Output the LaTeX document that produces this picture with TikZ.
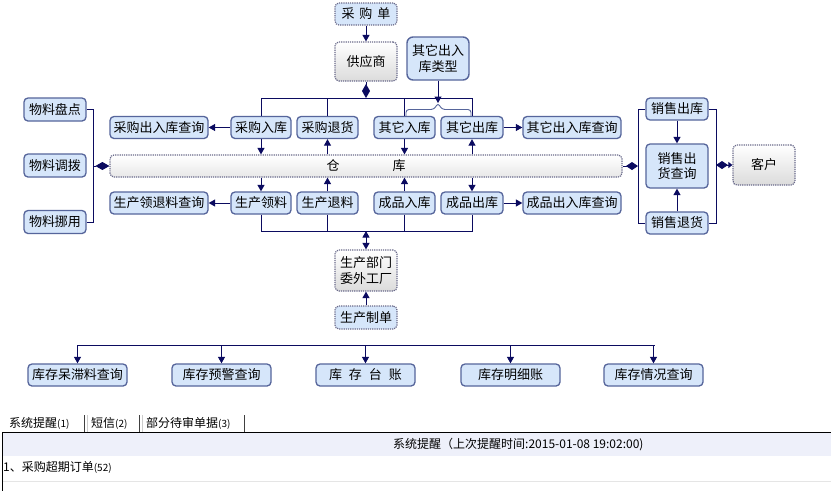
\documentclass[tikz,border=0pt]{standalone}
\usepackage{fontspec}
\setmainfont{Noto Sans CJK SC}
\usetikzlibrary{arrows.meta,shapes.geometric}
\definecolor{bfill}{HTML}{D6E6FA}
\definecolor{bline}{HTML}{56659B}
\definecolor{cline}{HTML}{0B0B60}
\definecolor{dline}{HTML}{6A6A8A}
\definecolor{hfill}{HTML}{EEF0FA}
\tikzset{
  box/.style={draw=bline, line width=1.3pt, rounded corners=4pt, fill=bfill, inner sep=0pt,
    font=\fontsize{13}{15.5}\selectfont, align=center, minimum width=62pt, minimum height=22pt},
  dbox/.style={box, draw=dline, dash pattern=on 1.2pt off 1pt, line width=1.2pt},
  gbox/.style={dbox, top color=white, bottom color=black!14},
  conn/.style={draw=cline, line width=1pt, -{Triangle[length=6.5pt,width=7pt]}},
  dconn/.style={draw=cline, line width=1pt, {Triangle[length=6.5pt,width=7pt]}-{Triangle[length=6.5pt,width=7pt]}},
  plain/.style={draw=cline, line width=1pt},
  diam/.style={draw=cline, line width=1pt, -{Diamond[length=14pt,width=8pt]}},
  tabtxt/.style={font=\fontsize{12}{14}\selectfont, inner sep=0pt},
}
\begin{document}
\begin{tikzpicture}[x=1pt,y=-1pt]
\useasboundingbox[fill=white] (0,0) rectangle (831,491);

% top
\node[dbox] (cgd) at (366,14) {采\hspace{5pt}购\hspace{5pt}单};
\node[gbox, minimum height=39pt] (gys) at (366,61.5) {供应商};
\node[box, minimum height=43pt, line width=1.4pt, rounded corners=6pt] (qtlx) at (438,58.5) {其它出入\\库类型};
\draw[conn] (cgd) -- (gys);

% row 1
\node[box, minimum width=98pt] (cgq) at (159,127.5) {采购出入库查询};
\node[box, minimum width=60pt] (cgrk) at (261,127.5) {采购入库};
\node[box, minimum width=61pt] (cgth) at (327.5,127.5) {采购退货};
\node[box, minimum width=61pt] (qtrk) at (404.5,127.5) {其它入库};
\node[box] (qtck) at (472,127.5) {其它出库};
\node[box, minimum width=98pt] (qtq) at (572,127.5) {其它出入库查询};

% warehouse
\node[gbox, minimum width=512pt, minimum height=22pt, bottom color=black!9] (ck) at (366,166) {仓\hspace{53pt}库};

% row 2
\node[box, minimum width=98pt] (sclq) at (159,203) {生产领退料查询};
\node[box, minimum width=60pt] (scll) at (261,203) {生产领料};
\node[box, minimum width=61pt] (sctl) at (327.5,203) {生产退料};
\node[box, minimum width=61pt] (cprk) at (404.5,203) {成品入库};
\node[box] (cpck) at (472,203) {成品出库};
\node[box, minimum width=98pt] (cpq) at (572,203) {成品出入库查询};

% production
\node[gbox, minimum height=41pt] (sc) at (366,270.5) {生产部门\\委外工厂};
\node[dbox, minimum height=23pt] (sczd) at (366,317.5) {生产制单};
\draw[conn] (sczd) -- (sc);

% left
\node[box, minimum height=23pt] (wlpd) at (55,109.5) {物料盘点};
\node[box, minimum height=23pt] (wldb) at (55,165.5) {物料调拨};
\node[box, minimum height=23pt] (wlny) at (55,222) {物料挪用};
\coordinate (lb) at (93,166);
\draw[plain] (wlpd.east) -- (wlpd.east -| lb) -- (wlny.east -| lb) -- (wlny.east);
\draw[diam] (lb) -- (ck.west);

% right
\node[box] (xsck) at (677,109) {销售出库};
\node[box, minimum height=44pt] (xscq) at (677,166) {销售出\\货查询};
\node[box] (xsth) at (677,223) {销售退货};
\node[gbox, minimum height=40pt] (kh) at (764,165) {客户};
\draw[conn] (xsck) -- (xscq);
\draw[conn] (xsth) -- (xscq);
\coordinate (rb1) at (638,166);
\coordinate (rb2) at (716,165);
\draw[plain] (xsck.west) -- (xsck.west -| rb1) -- (xsth.west -| rb1) -- (xsth.west);
\draw[plain] (xsck.east) -- (xsck.east -| rb2) -- (xsth.east -| rb2) -- (xsth.east);
\draw[draw=cline, line width=1pt, {Diamond[length=12pt,width=8pt]}-{Triangle[length=4pt,width=6pt]}] (rb2) -- (kh.west);
\draw[draw=cline, line width=1pt, {Diamond[length=12pt,width=8pt]}-] (rb1) -- (ck.east);

% top bar
\coordinate (tb) at (366,98);
\draw[diam] (gys.south) -- (tb);
\draw[plain] (cgrk.north) -- (cgrk.north |- tb) -- (qtck.north |- tb) -- (qtck.north);
\draw[plain] (cgth.north |- tb) -- (cgth.north);
\draw[plain] (qtrk.north |- tb) -- (qtrk.north);
% brace
\coordinate (br) at (438,103);
\draw[draw=bline, line width=0.9pt, rounded corners=3pt] (406,116) -- (406,109.5) -- (434,109.5) -- (br) -- (442,109.5) -- (471,109.5) -- (471,116);
\draw[conn] (qtlx.south) -- (br);

% row1 arrows
\draw[conn] (cgrk) -- (cgq);
\draw[conn] (qtck) -- (qtq);
\draw[conn] (cgrk.south) -- (cgrk.south |- ck.north);
\draw[conn] (cgth.south |- ck.north) -- (cgth.south);
\draw[conn] (qtrk.south) -- (qtrk.south |- ck.north);
\draw[conn] (qtck.south |- ck.north) -- (qtck.south);

% row2 arrows
\draw[conn] (scll) -- (sclq);
\draw[conn] (cpck) -- (cpq);
\draw[conn] (scll.north |- ck.south) -- (scll.north);
\draw[conn] (sctl.north) -- (sctl.north |- ck.south);
\draw[conn] (cprk.north) -- (cprk.north |- ck.south);
\draw[conn] (cpck.north |- ck.south) -- (cpck.north);

% bottom bar
\coordinate (bb) at (366,231);
\draw[plain] (scll.south) -- (scll.south |- bb) -- (cpck.south |- bb) -- (cpck.south);
\draw[plain] (sctl.south) -- (sctl.south |- bb);
\draw[plain] (cprk.south) -- (cprk.south |- bb);
\draw[dconn] (bb) -- (sc.north);

% stock tree
\node[box, minimum width=99pt] (kc1) at (77.5,375) {库存呆滞料查询};
\node[box, minimum width=99pt] (kc2) at (221.5,375) {库存预警查询};
\node[box, minimum width=99pt] (kc3) at (365.5,375) {库\hspace{7pt}存\hspace{7pt}台\hspace{7pt}账};
\node[box, minimum width=99pt] (kc4) at (510.5,375) {库存明细账};
\node[box, minimum width=99pt] (kc5) at (653.5,375) {库存情况查询};
\coordinate (tl) at (78,345);
\coordinate (tr) at (655,345);
\draw[plain] (tl) -- (tr);
\foreach \k in {kc1,kc2,kc3,kc4,kc5} \draw[conn] (\k.north |- tl) -- (\k.north);

% bottom panel
\fill[hfill] (2,433) rectangle (831,456);
\draw[black!10, line width=0.8pt] (2,481) -- (831,481);
\draw[black, line width=1pt] (831,432) -- (2,432) -- (2,491);
\node[tabtxt, anchor=west] (t1) at (9,423) {系统提醒{\fontsize{10}{12}\selectfont(1)}};
\node[tabtxt, anchor=west] (t2) at (91,423) {短信{\fontsize{10}{12}\selectfont(2)}};
\node[tabtxt, anchor=west] (t3) at (146,423) {部分待审单据{\fontsize{10}{12}\selectfont(3)}};
\draw[black!75, line width=1pt] (84,415) -- (84,432) (139,415) -- (139,432) (244,415) -- (244,432);
\draw[black!20, line width=0.8pt] (87,415) -- (87,432) (142,415) -- (142,432);
\node[tabtxt, anchor=west] (hd) at (393,445) {系统提醒（上次提醒时间:2015-01-08 19:02:00)};
\node[tabtxt, anchor=west] (r1) at (3,467) {1、采购超期订单{\fontsize{10}{12}\selectfont(52)}};
\end{tikzpicture}
\end{document}
